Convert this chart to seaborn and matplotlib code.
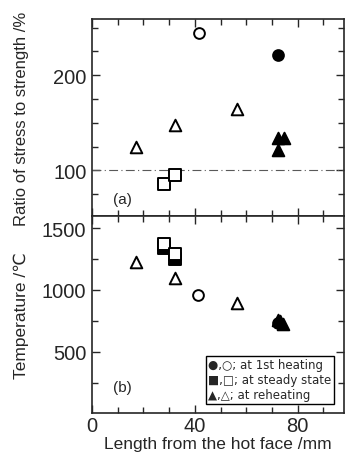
import matplotlib
matplotlib.use("Agg")
import matplotlib.pyplot as plt
from matplotlib.ticker import MultipleLocator, FixedLocator
import seaborn as sns
import pandas as pd

# (a) ratio of stress to strength, %
a_first_open_x = [41.6]
a_first_open_y = [244]
a_first_fill_x = [72.5]
a_first_fill_y = [221]
a_steady_open_x = [27.9, 32.2]
a_steady_open_y = [86, 95]
a_reheat_open_x = [17.3, 32.3, 56.2]
a_reheat_open_y = [125, 148, 164]
a_reheat_fill_x = [72.5, 74.8, 72.3]
a_reheat_fill_y = [134, 134, 121]

# (b) temperature, deg C
b_first_open_x = [41.2]
b_first_open_y = [960]
b_first_fill_x = [72.5]
b_first_fill_y = [734]
b_steady_fill_x = [27.9, 32.2]
b_steady_fill_y = [1335, 1250]
b_steady_open_x = [27.9, 32.3]
b_steady_open_y = [1370, 1290]
b_reheat_open_x = [17.3, 32.3, 56.2]
b_reheat_open_y = [1226, 1097, 895]
b_reheat_fill_x = [72.5, 74.3, 73.0]
b_reheat_fill_y = [760, 722, 745]

legend_lines = ["●,○; at 1st heating", "■,□; at steady state", "▲,△; at reheating"]

sns.set_style("ticks")
plt.rcParams['font.family'] = ['Liberation Sans', 'DejaVu Sans']

fig = plt.figure(figsize=(3.48, 4.56), dpi=100)
ax1 = fig.add_axes([92/348, (456-217)/456, 252/348, 197/456])
ax2 = fig.add_axes([92/348, (456-414)/456, 252/348, 197/456])


def pts(ax, x, y, marker, filled, size):
    df = pd.DataFrame({"x": x, "y": y})
    sns.scatterplot(data=df, x="x", y="y", ax=ax, marker=marker, s=size,
                    facecolor="black" if filled else "white",
                    edgecolor="black", linewidth=1.4, zorder=3)


pts(ax1, a_first_open_x, a_first_open_y, "o", False, 60)
pts(ax1, a_first_fill_x, a_first_fill_y, "o", True, 60)
pts(ax1, a_steady_open_x, a_steady_open_y, "s", False, 75)
pts(ax1, a_reheat_open_x, a_reheat_open_y, "^", False, 70)
pts(ax1, a_reheat_fill_x, a_reheat_fill_y, "^", True, 70)
ax1.axhline(100, color="0.35", lw=0.8, ls=(0, (8, 3, 1, 3)), zorder=1)

pts(ax2, b_steady_fill_x, b_steady_fill_y, "s", True, 75)
pts(ax2, b_steady_open_x, b_steady_open_y, "s", False, 75)
pts(ax2, b_reheat_open_x, b_reheat_open_y, "^", False, 70)
pts(ax2, b_first_open_x, b_first_open_y, "o", False, 60)
pts(ax2, b_reheat_fill_x, b_reheat_fill_y, "^", True, 70)
pts(ax2, b_first_fill_x, b_first_fill_y, "o", True, 60)

ax1.set_xlim(0, 98)
ax2.set_xlim(0, 98)
ax1.set_ylim(52, 259)
ax2.set_ylim(5, 1597)

for ax in (ax1, ax2):
    ax.xaxis.set_major_locator(FixedLocator([0, 40, 80]))
    ax.xaxis.set_minor_locator(MultipleLocator(10))
    ax.tick_params(which="both", direction="in", top=True, right=True,
                   labelsize=14.5, width=1, pad=4)
    ax.tick_params(which="major", length=6)
    ax.tick_params(which="minor", length=4)
    ax.tick_params(axis="x", pad=2)
    for sp in ax.spines.values():
        sp.set_linewidth(1.2)
    ax.set_xlabel("")

ax1.yaxis.set_major_locator(FixedLocator([100, 200]))
ax1.yaxis.set_minor_locator(MultipleLocator(25))
ax2.yaxis.set_major_locator(FixedLocator([500, 1000, 1500]))
ax2.yaxis.set_minor_locator(MultipleLocator(250))
ax1.tick_params(labelbottom=False)

ax1.set_ylabel("Ratio of stress to strength /%", fontsize=12)
ax2.set_ylabel("Temperature /℃", fontsize=12.5)
ax2.set_xlabel("Length from the hot face /mm", fontsize=12.5, labelpad=1)
ax1.yaxis.set_label_coords(-0.25, 0.5)
ax2.yaxis.set_label_coords(-0.25, 0.5)

ax1.text(12, 70, "(a)", fontsize=11, ha="center", va="center")
ax2.text(12, 215, "(b)", fontsize=11, ha="center", va="center")

ax2.text(0.95, 0.06, "\n".join(legend_lines), transform=ax2.transAxes,
         ha="right", va="bottom", fontsize=8.5, linespacing=1.2,
         multialignment="left", family=['DejaVu Sans'],
         bbox=dict(boxstyle="square,pad=0.2", fc="white", ec="black", lw=1))

fig.savefig("out.png", dpi=100)
